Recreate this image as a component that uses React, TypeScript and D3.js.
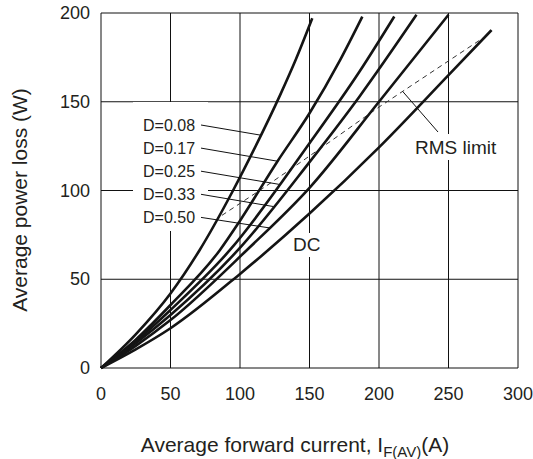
import * as d3 from "d3"
import { useRef, useEffect } from "react"

// tick values
const currentTicks = [0, 50, 100, 150, 200, 250, 300]
const powerTicks = [0, 50, 100, 150, 200]

// [current A, power W]
const d008 = [[0, 0], [25, 19], [50, 42], [71, 66.5], [95, 100], [110, 123], [129, 154], [140, 173.5], [152, 197]]
const d017 = [[0, 0], [25, 16], [50, 35.5], [85.6, 66.5], [100, 83], [127, 116.5], [150, 143.5], [172, 173.5], [188, 198]]
const d025 = [[0, 0], [25, 15], [50, 32.7], [92.8, 66.5], [150, 126.6], [186, 167], [211, 198]]
const d033 = [[0, 0], [25, 14], [50, 29.9], [98.6, 66.5], [150, 116], [186, 153], [227, 199]]
const d050 = [[0, 0], [25, 12.5], [50, 27], [105, 66.5], [150, 101.5], [200, 150], [250, 199]]
const dc = [[0, 0], [25, 10.5], [50, 22.4], [100, 53], [150, 87], [200, 124.3], [250, 165], [281, 190.4]]
const rmsLimit = [[87, 86], [116, 101], [141, 114.5], [162, 126], [200, 147], [275, 186]]

const seriesNames = ["D=0.08", "D=0.17", "D=0.25", "D=0.33", "D=0.50"]
const seriesData = [d008, d017, d025, d033, d050]
const leaderAt = [115, 127, 128, 124, 121]

const font = "'Liberation Sans', Arial, sans-serif"
const ink = "#231f20"

const App = () => {
  const svgRef = useRef(null)
  const width = 533
  const height = 459
  const left = 101
  const right = 518
  const top = 13
  const bottom = 368

  useEffect(() => {
    const svg = d3.select(svgRef.current)
    svg.selectAll("*").remove()

    const x = d3.scaleLinear().domain([0, 300]).range([left, right])
    const y = d3.scaleLinear().domain([0, 200]).range([bottom, top])

    // grid
    svg
      .append("g")
      .selectAll("line")
      .data(currentTicks)
      .join("line")
      .attr("x1", (d) => x(d))
      .attr("x2", (d) => x(d))
      .attr("y1", top)
      .attr("y2", bottom)
      .attr("stroke", "#111")
      .attr("stroke-width", 1)
    svg
      .append("g")
      .selectAll("line")
      .data(powerTicks)
      .join("line")
      .attr("x1", left)
      .attr("x2", right)
      .attr("y1", (d) => y(d))
      .attr("y2", (d) => y(d))
      .attr("stroke", "#111")
      .attr("stroke-width", 1)

    // gaps in the grid behind labels
    const gaps = [
      [133, 102, 75, 129],
      [291, 233, 32, 24],
      [410, 134, 90, 26],
    ]
    svg
      .append("g")
      .selectAll("rect")
      .data(gaps)
      .join("rect")
      .attr("x", (d) => d[0])
      .attr("y", (d) => d[1])
      .attr("width", (d) => d[2])
      .attr("height", (d) => d[3])
      .attr("fill", "#fff")

    const line = d3
      .line()
      .x((d) => x(d[0]))
      .y((d) => y(d[1]))

    // RMS limit
    svg
      .append("path")
      .attr("d", line(rmsLimit))
      .attr("fill", "none")
      .attr("stroke", "#333")
      .attr("stroke-width", 1)
      .attr("stroke-dasharray", "5,4")

    // curves
    const smooth = line.curve(d3.curveMonotoneX)
    svg
      .append("g")
      .selectAll("path")
      .data([...seriesData, dc])
      .join("path")
      .attr("d", (d) => smooth(d))
      .attr("fill", "none")
      .attr("stroke", "#141414")
      .attr("stroke-width", 2.6)

    // duty labels with leaders
    seriesNames.forEach((name, i) => {
      const cy = 125 + i * 23.1
      const f = d3.scaleLinear().domain(seriesData[i].map((d) => d[0])).range(seriesData[i].map((d) => d[1]))
      const a = leaderAt[i]
      svg
        .append("line")
        .attr("x1", 201)
        .attr("y1", cy)
        .attr("x2", x(a))
        .attr("y2", y(f(a)))
        .attr("stroke", "#111")
        .attr("stroke-width", 1)
      svg
        .append("text")
        .attr("x", 143)
        .attr("y", cy)
        .attr("dominant-baseline", "central")
        .attr("font-family", font)
        .attr("font-size", 16)
        .attr("fill", ink)
        .text(name)
    })

    svg
      .append("text")
      .attr("x", 293)
      .attr("y", 251)
      .attr("font-family", font)
      .attr("font-size", 19)
      .attr("fill", ink)
      .text("DC")

    const rms = d3.scaleLinear().domain(rmsLimit.map((d) => d[0])).range(rmsLimit.map((d) => d[1]))
    svg
      .append("line")
      .attr("x1", 438)
      .attr("y1", 132)
      .attr("x2", x(217))
      .attr("y2", y(rms(217)))
      .attr("stroke", "#111")
      .attr("stroke-width", 1)
    svg
      .append("text")
      .attr("x", 415)
      .attr("y", 154)
      .attr("font-family", font)
      .attr("font-size", 19)
      .attr("fill", ink)
      .text("RMS limit")

    // tick labels
    svg
      .append("g")
      .selectAll("text")
      .data(currentTicks)
      .join("text")
      .attr("x", (d) => x(d))
      .attr("y", 394)
      .attr("text-anchor", "middle")
      .attr("dominant-baseline", "central")
      .attr("font-family", font)
      .attr("font-size", 18)
      .attr("fill", ink)
      .text((d) => d)
    svg
      .append("g")
      .selectAll("text")
      .data(powerTicks)
      .join("text")
      .attr("x", 90)
      .attr("y", (d) => y(d))
      .attr("text-anchor", "end")
      .attr("dominant-baseline", "central")
      .attr("font-family", font)
      .attr("font-size", 18)
      .attr("fill", ink)
      .text((d) => d)

    // axis titles
    const xt = svg
      .append("text")
      .attr("x", 295)
      .attr("y", 452)
      .attr("text-anchor", "middle")
      .attr("font-family", font)
      .attr("font-size", 21)
      .attr("fill", ink)
    xt.append("tspan").text("Average forward current, I")
    xt.append("tspan").attr("font-size", 15).attr("dy", 5).text("F(AV)")
    xt.append("tspan").attr("dy", -5).text("(A)")

    svg
      .append("text")
      .attr("transform", "translate(27, 200) rotate(-90)")
      .attr("text-anchor", "middle")
      .attr("font-family", font)
      .attr("font-size", 21)
      .attr("fill", ink)
      .text("Average power loss (W)")
  }, [])

  return (
    <div style={{ position: "absolute", left: 0, top: 0 }}>
      <svg ref={svgRef} width={width} height={height} style={{ display: "block", background: "#fff" }}></svg>
    </div>
  )
}

export default App
